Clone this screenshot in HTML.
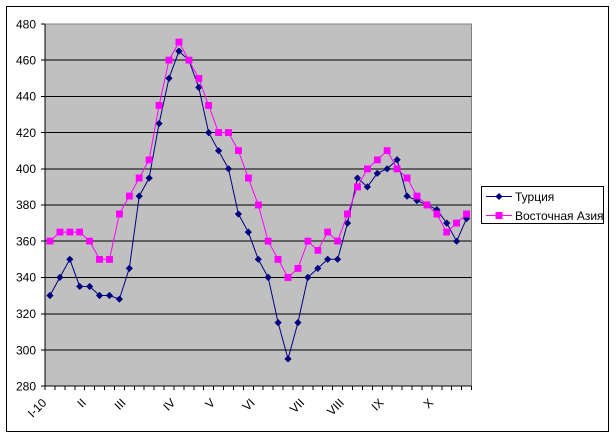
<!DOCTYPE html>
<html>
<head>
<meta charset="utf-8">
<style>
html,body{margin:0;padding:0;background:#fff;}
svg{display:block;}
text{font-family:"Liberation Sans","DejaVu Sans",sans-serif;font-size:12px;fill:#000;}
</style>
</head>
<body>
<svg width="616" height="439" viewBox="0 0 616 439" xmlns="http://www.w3.org/2000/svg">
<defs>
<marker id="dm" markerWidth="8" markerHeight="8" refX="4" refY="4" markerUnits="userSpaceOnUse">
<path d="M4 0.4 L7.6 4 L4 7.6 L0.4 4 Z" fill="#000080"/>
</marker>
<marker id="sq" markerWidth="7" markerHeight="7" refX="3.5" refY="3.5" markerUnits="userSpaceOnUse">
<rect x="0" y="0" width="7" height="7" fill="#ff00ff"/>
</marker>
</defs>
<rect x="0" y="0" width="616" height="439" fill="#fff"/>
<rect x="6.5" y="6.5" width="602" height="425" fill="#fff" stroke="#000" stroke-width="1"/>

<!-- plot area -->
<rect x="45" y="24" width="426.5" height="362" fill="#c0c0c0" stroke="#808080" stroke-width="1" shape-rendering="crispEdges"/>

<!-- gridlines -->
<g stroke="#000" stroke-width="1" shape-rendering="crispEdges">
<line x1="45" y1="350" x2="471.5" y2="350"/>
<line x1="45" y1="313.8" x2="471.5" y2="313.8"/>
<line x1="45" y1="277.4" x2="471.5" y2="277.4"/>
<line x1="45" y1="241.2" x2="471.5" y2="241.2"/>
<line x1="45" y1="204.9" x2="471.5" y2="204.9"/>
<line x1="45" y1="168.8" x2="471.5" y2="168.8"/>
<line x1="45" y1="132.6" x2="471.5" y2="132.6"/>
<line x1="45" y1="96.4" x2="471.5" y2="96.4"/>
<line x1="45" y1="60.2" x2="471.5" y2="60.2"/>
<!-- axes -->
<line x1="45" y1="24" x2="45" y2="386"/>
<line x1="45" y1="386" x2="471.5" y2="386"/>
<!-- y ticks -->
<line x1="41" y1="24" x2="45" y2="24"/>
<line x1="41" y1="60.2" x2="45" y2="60.2"/>
<line x1="41" y1="96.4" x2="45" y2="96.4"/>
<line x1="41" y1="132.6" x2="45" y2="132.6"/>
<line x1="41" y1="168.8" x2="45" y2="168.8"/>
<line x1="41" y1="204.9" x2="45" y2="204.9"/>
<line x1="41" y1="241.2" x2="45" y2="241.2"/>
<line x1="41" y1="277.4" x2="45" y2="277.4"/>
<line x1="41" y1="313.8" x2="45" y2="313.8"/>
<line x1="41" y1="350" x2="45" y2="350"/>
<line x1="41" y1="386" x2="45" y2="386"/>
<!-- x ticks -->
<path d="M45 386V390M54.92 386V390M64.84 386V390M74.76 386V390M84.68 386V390M94.6 386V390M104.51 386V390M114.43 386V390M124.35 386V390M134.27 386V390M144.19 386V390M154.11 386V390M164.03 386V390M173.95 386V390M183.87 386V390M193.79 386V390M203.7 386V390M213.62 386V390M223.54 386V390M233.46 386V390M243.38 386V390M253.3 386V390M263.22 386V390M273.14 386V390M283.06 386V390M292.98 386V390M302.89 386V390M312.81 386V390M322.73 386V390M332.65 386V390M342.57 386V390M352.49 386V390M362.41 386V390M372.33 386V390M382.25 386V390M392.17 386V390M402.08 386V390M412 386V390M421.92 386V390M431.84 386V390M441.76 386V390M451.68 386V390M461.6 386V390M471.5 386V390" fill="none"/>
</g>

<!-- y labels -->
<g text-anchor="end">
<text x="36" y="28.3">480</text>
<text x="36" y="64.5">460</text>
<text x="36" y="100.7">440</text>
<text x="36" y="136.9">420</text>
<text x="36" y="173.1">400</text>
<text x="36" y="209.2">380</text>
<text x="36" y="245.5">360</text>
<text x="36" y="281.7">340</text>
<text x="36" y="318.1">320</text>
<text x="36" y="354.3">300</text>
<text x="36" y="390.3">280</text>
</g>

<!-- x labels -->
<g text-anchor="end">
<text x="47.2" y="403.5" transform="rotate(-45 47.2 403.5)">I-10</text>
<text x="86.8" y="403.5" transform="rotate(-45 86.8 403.5)">II</text>
<text x="126.5" y="403.5" transform="rotate(-45 126.5 403.5)">III</text>
<text x="176.1" y="403.5" transform="rotate(-45 176.1 403.5)">IV</text>
<text x="215.8" y="403.5" transform="rotate(-45 215.8 403.5)">V</text>
<text x="255.5" y="403.5" transform="rotate(-45 255.5 403.5)">VI</text>
<text x="305.1" y="403.5" transform="rotate(-45 305.1 403.5)">VII</text>
<text x="344.7" y="403.5" transform="rotate(-45 344.7 403.5)">VIII</text>
<text x="384.4" y="403.5" transform="rotate(-45 384.4 403.5)">IX</text>
<text x="434" y="403.5" transform="rotate(-45 434 403.5)">X</text>
</g>

<!-- Турция -->
<polyline fill="none" stroke="#000080" stroke-width="1" marker-start="url(#dm)" marker-mid="url(#dm)" marker-end="url(#dm)"
points="49.96,295.5 59.88,277.4 69.8,259.3 79.72,286.45 89.64,286.45 99.56,295.5 109.47,295.5 119.39,299.1 129.31,268.35 139.23,196.15 149.15,178.05 159.07,123.55 168.99,78.3 178.91,51.15 188.83,60.2 198.75,87.35 208.67,132.6 218.58,150.7 228.5,168.8 238.42,214.05 248.34,232.15 258.26,259.3 268.18,277.4 278.1,322.65 288.02,358.85 297.94,322.65 307.86,277.4 317.77,268.35 327.69,259.3 337.61,259.3 347.53,223.1 357.45,178.05 367.37,186.9 377.29,173.33 387.21,168.8 397.13,159.75 407.05,196.15 416.96,200.48 426.88,204.9 436.8,209.58 446.72,223.1 456.64,241.2 466.56,218.58"/>

<!-- Восточная Азия -->
<polyline fill="none" stroke="#ff00ff" stroke-width="1" marker-start="url(#sq)" marker-mid="url(#sq)" marker-end="url(#sq)"
points="49.96,241.2 59.88,232.15 69.8,232.15 79.72,232.15 89.64,241.2 99.56,259.3 109.47,259.3 119.39,214.05 129.31,196.15 139.23,178.05 149.15,159.75 159.07,105.45 168.99,60.2 178.91,42.1 188.83,60.2 198.75,78.3 208.67,105.45 218.58,132.6 228.5,132.6 238.42,150.7 248.34,178.05 258.26,204.9 268.18,241.2 278.1,259.3 288.02,277.4 297.94,268.35 307.86,241.2 317.77,250.25 327.69,232.15 337.61,241.2 347.53,214.05 357.45,186.9 367.37,168.8 377.29,159.75 387.21,150.7 397.13,168.8 407.05,178.05 416.96,196.15 426.88,204.9 436.8,214.05 446.72,232.15 456.64,223.1 466.56,214.05"/>

<!-- legend -->
<rect x="481.5" y="186.5" width="122" height="37" fill="#fff" stroke="#000" stroke-width="1" shape-rendering="crispEdges"/>
<line x1="486" y1="196.5" x2="512" y2="196.5" stroke="#000080" stroke-width="1"/>
<path d="M499 193 L502.6 196.5 L499 200 L495.4 196.5 Z" fill="#000080"/>
<text x="515" y="200.8">Турция</text>
<line x1="486" y1="215.5" x2="512" y2="215.5" stroke="#ff00ff" stroke-width="1"/>
<rect x="495.5" y="212" width="7" height="7" fill="#ff00ff"/>
<text x="515" y="220">Восточная Азия</text>
</svg>
</body>
</html>
